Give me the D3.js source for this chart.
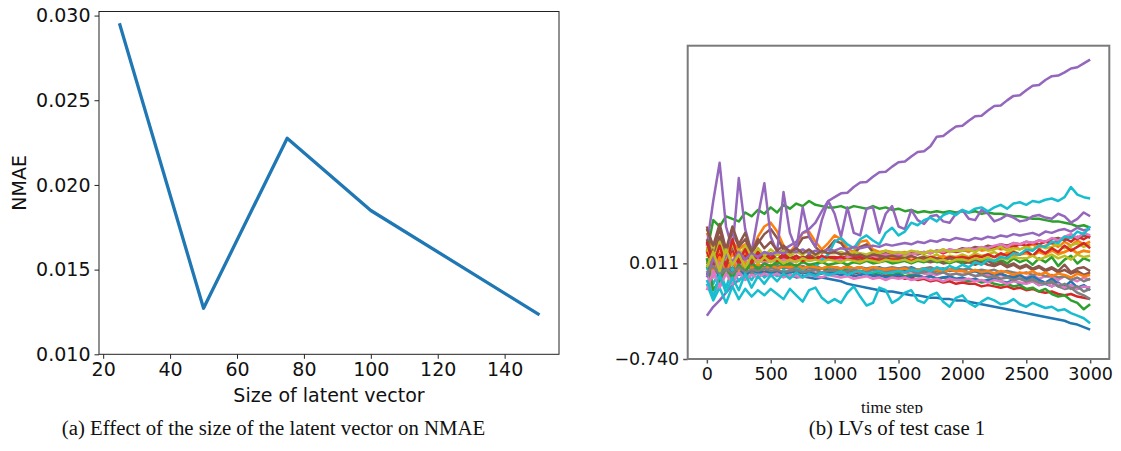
<!DOCTYPE html>
<html><head><meta charset="utf-8">
<script src="https://cdn.jsdelivr.net/npm/d3@7"></script>
<style>body{margin:0;background:#fff}svg{display:block}</style>
</head><body>
<svg id="chart" width="1121" height="451"></svg>
<script>
// ---------- Panel (a) data ----------
const latentSizes = [25, 50, 75, 100, 150];
const nmaeValues = [0.02945, 0.01272, 0.02276, 0.01849, 0.01238];
const xTicksA = [20, 40, 60, 80, 100, 120, 140];
const yTicksA = [0.010, 0.015, 0.020, 0.025, 0.030];

// ---------- Panel (b) data ----------
const timeSteps = [0,50,100,150,200,250,300,350,400,450,500,550,600,650,700,750,800,850,900,950,1000,1050,1100,1150,1200,1250,1300,1350,1400,1450,1500,1550,1600,1650,1700,1750,1800,1850,1900,1950,2000,2050,2100,2150,2200,2250,2300,2350,2400,2450,2500,2550,2600,2650,2700,2750,2800,2850,2900,2950,3000];
const xTicksB = [0, 500, 1000, 1500, 2000, 2500, 3000];
const yTicksB = [-0.740, 0.011];
const yTickLabelsB = ["\u22120.740", "0.011"];
const lvSeries = [
 [-0.02,-0.06,-0.03,-0.07,-0.04,-0.08,-0.05,-0.07,-0.06,-0.09,-0.07,-0.08,-0.09,-0.08,-0.10,-0.09,-0.10,-0.11,-0.10,-0.11,-0.12,-0.13,-0.15,-0.16,-0.17,-0.18,-0.19,-0.20,-0.21,-0.21,-0.22,-0.23,-0.24,-0.24,-0.25,-0.26,-0.26,-0.27,-0.27,-0.28,-0.28,-0.29,-0.30,-0.31,-0.32,-0.33,-0.34,-0.35,-0.36,-0.37,-0.38,-0.39,-0.40,-0.41,-0.42,-0.43,-0.44,-0.46,-0.47,-0.49,-0.51],
 [0.25,0.10,0.22,0.08,0.18,0.12,0.16,0.10,0.22,0.30,0.33,0.26,0.15,0.10,0.16,0.25,0.26,0.18,0.12,0.17,0.23,0.20,0.13,0.10,0.18,0.19,0.12,0.10,0.11,0.10,0.09,0.10,0.08,0.10,0.09,0.11,0.10,0.12,0.10,0.11,0.12,0.10,0.13,0.11,0.12,0.14,0.12,0.13,0.15,0.12,0.14,0.16,0.13,0.15,0.17,0.14,0.18,0.15,0.19,0.16,0.18],
 [0.10,0.35,0.30,0.38,0.36,0.34,0.41,0.38,0.43,0.40,0.45,0.41,0.47,0.44,0.48,0.46,0.50,0.47,0.46,0.45,0.45,0.46,0.44,0.46,0.45,0.44,0.46,0.44,0.45,0.43,0.44,0.42,0.43,0.41,0.42,0.41,0.42,0.41,0.42,0.41,0.42,0.41,0.42,0.40,0.41,0.40,0.40,0.39,0.38,0.38,0.37,0.36,0.36,0.35,0.34,0.34,0.33,0.32,0.30,0.31,0.29],
 [0.02,-0.05,0.05,-0.03,0.03,-0.06,0.01,-0.04,0.00,-0.03,-0.01,-0.04,0.00,-0.03,-0.02,-0.05,-0.02,-0.04,-0.03,-0.05,-0.04,-0.06,-0.05,-0.07,-0.06,-0.08,-0.07,-0.09,-0.08,-0.10,-0.09,-0.11,-0.10,-0.12,-0.11,-0.13,-0.12,-0.14,-0.13,-0.15,-0.14,-0.15,-0.15,-0.17,-0.16,-0.17,-0.18,-0.17,-0.19,-0.18,-0.20,-0.19,-0.21,-0.22,-0.21,-0.23,-0.24,-0.23,-0.25,-0.26,-0.27],
 [-0.40,-0.33,-0.28,-0.22,-0.16,-0.12,-0.09,-0.05,-0.03,0.01,0.05,0.08,0.12,0.15,0.18,0.25,0.28,0.33,0.42,0.50,0.53,0.56,0.565,0.61,0.645,0.65,0.69,0.725,0.73,0.77,0.805,0.81,0.85,0.885,0.89,0.93,1.005,1.01,1.05,1.085,1.09,1.13,1.165,1.17,1.21,1.245,1.25,1.29,1.325,1.33,1.37,1.405,1.41,1.45,1.48,1.485,1.51,1.54,1.55,1.58,1.61],
 [0.30,0.12,0.28,0.10,0.26,0.14,0.20,0.09,0.17,0.24,0.28,0.21,0.12,0.08,0.13,0.21,0.22,0.14,0.09,0.13,0.19,0.17,0.10,0.08,0.14,0.16,0.10,0.08,0.09,0.07,0.08,0.07,0.09,0.08,0.10,0.09,0.11,0.10,0.12,0.11,0.13,0.12,0.14,0.13,0.15,0.14,0.16,0.15,0.17,0.16,0.18,0.17,0.19,0.18,0.20,0.21,0.19,0.22,0.20,0.23,0.21],
 [-0.05,-0.26,-0.15,-0.04,-0.12,-0.02,-0.10,-0.03,-0.08,-0.02,-0.06,-0.03,-0.07,-0.04,-0.06,-0.05,-0.07,-0.04,-0.06,-0.05,-0.06,-0.05,-0.07,-0.05,-0.06,-0.06,-0.07,-0.05,-0.07,-0.06,-0.07,-0.06,-0.08,-0.06,-0.07,-0.07,-0.08,-0.06,-0.08,-0.07,-0.08,-0.07,-0.09,-0.07,-0.08,-0.09,-0.08,-0.10,-0.08,-0.09,-0.10,-0.08,-0.11,-0.09,-0.10,-0.12,-0.09,-0.11,-0.13,-0.10,-0.12],
 [-0.02,-0.08,-0.03,-0.07,-0.02,-0.06,-0.04,-0.07,-0.05,-0.06,-0.05,-0.07,-0.06,-0.05,-0.07,-0.06,-0.05,-0.07,-0.06,-0.06,-0.06,-0.05,-0.07,-0.06,-0.05,-0.06,-0.07,-0.05,-0.06,-0.05,-0.06,-0.05,-0.04,-0.06,-0.05,-0.04,-0.05,-0.06,-0.04,-0.05,-0.05,-0.06,-0.05,-0.07,-0.06,-0.08,-0.07,-0.09,-0.10,-0.11,-0.12,-0.11,-0.14,-0.15,-0.14,-0.17,-0.19,-0.18,-0.22,-0.24,-0.27],
 [0.06,0.16,-0.02,0.14,0.00,0.12,0.02,0.11,0.03,0.10,0.04,0.09,0.03,0.08,0.04,0.07,0.03,0.08,0.04,0.06,0.04,0.07,0.05,0.06,0.04,0.07,0.05,0.06,0.05,0.07,0.05,0.07,0.06,0.05,0.07,0.06,0.08,0.05,0.07,0.06,0.08,0.06,0.09,0.07,0.08,0.10,0.07,0.09,0.11,0.08,0.10,0.07,0.11,0.09,0.12,0.08,0.10,0.13,0.09,0.11,0.10],
 [-0.15,-0.28,-0.18,-0.30,-0.17,-0.27,-0.19,-0.25,-0.20,-0.24,-0.19,-0.23,-0.27,-0.19,-0.24,-0.29,-0.20,-0.18,-0.26,-0.30,-0.27,-0.30,-0.22,-0.17,-0.25,-0.32,-0.30,-0.18,-0.20,-0.30,-0.27,-0.22,-0.20,-0.28,-0.30,-0.24,-0.22,-0.29,-0.33,-0.26,-0.24,-0.30,-0.33,-0.29,-0.26,-0.28,-0.31,-0.30,-0.27,-0.31,-0.33,-0.30,-0.32,-0.34,-0.33,-0.36,-0.35,-0.38,-0.40,-0.42,-0.46],
 [0.00,-0.06,0.03,-0.04,0.02,-0.05,0.01,-0.03,0.00,-0.02,-0.01,-0.03,0.00,-0.02,-0.01,-0.03,-0.02,-0.01,-0.03,-0.02,-0.02,-0.03,-0.01,-0.03,-0.02,-0.04,-0.03,-0.02,-0.04,-0.03,-0.03,-0.04,-0.02,-0.04,-0.03,-0.05,-0.04,-0.03,-0.05,-0.04,-0.04,-0.06,-0.05,-0.07,-0.06,-0.08,-0.07,-0.09,-0.10,-0.08,-0.11,-0.09,-0.12,-0.14,-0.11,-0.15,-0.17,-0.13,-0.18,-0.16,-0.20],
 [0.12,-0.02,0.10,0.00,0.08,0.02,0.09,0.01,0.07,0.03,0.06,0.02,0.05,0.03,0.06,0.02,0.05,0.04,0.03,0.05,0.04,0.03,0.05,0.04,0.03,0.05,0.04,0.06,0.04,0.05,0.05,0.04,0.06,0.05,0.04,0.06,0.05,0.07,0.05,0.06,0.06,0.05,0.07,0.06,0.08,0.06,0.07,0.09,0.07,0.08,0.09,0.07,0.10,0.08,0.11,0.09,0.10,0.12,0.09,0.11,0.10],
 [-0.03,0.06,-0.06,0.04,-0.05,0.03,-0.04,0.02,-0.03,0.01,-0.02,0.00,-0.03,-0.01,-0.02,-0.03,-0.02,-0.04,-0.03,-0.04,-0.04,-0.05,-0.04,-0.06,-0.05,-0.06,-0.07,-0.06,-0.07,-0.08,-0.07,-0.09,-0.08,-0.09,-0.10,-0.09,-0.11,-0.10,-0.11,-0.12,-0.12,-0.13,-0.12,-0.14,-0.13,-0.15,-0.16,-0.15,-0.17,-0.16,-0.19,-0.18,-0.21,-0.19,-0.23,-0.25,-0.24,-0.28,-0.30,-0.35,-0.31],
 [0.10,-0.01,0.08,0.02,0.12,0.00,0.07,0.03,0.06,0.04,0.05,0.04,0.06,0.05,0.04,0.06,0.05,0.07,0.05,0.06,0.06,0.05,0.07,0.06,0.08,0.06,0.07,0.08,0.07,0.09,0.08,0.09,0.08,0.10,0.09,0.10,0.11,0.09,0.11,0.10,0.11,0.12,0.11,0.13,0.12,0.14,0.13,0.15,0.14,0.16,0.15,0.17,0.16,0.18,0.17,0.19,0.21,0.18,0.22,0.20,0.23],
 [0.15,0.50,0.80,0.30,0.12,0.68,0.28,0.10,0.38,0.64,0.22,0.10,0.57,0.25,0.12,0.45,0.22,0.14,0.35,0.50,0.40,0.22,0.45,0.25,0.23,0.44,0.45,0.25,0.40,0.46,0.30,0.28,0.43,0.35,0.32,0.38,0.39,0.34,0.33,0.40,0.43,0.36,0.35,0.43,0.40,0.34,0.36,0.39,0.37,0.34,0.35,0.38,0.39,0.37,0.36,0.40,0.38,0.33,0.36,0.41,0.38],
 [0.20,0.05,0.22,0.02,0.15,0.06,0.13,0.04,0.10,0.05,0.09,0.04,0.08,0.05,0.07,0.04,0.08,0.05,0.06,0.04,0.05,0.04,0.06,0.03,0.05,0.04,0.03,0.05,0.04,0.03,0.04,0.03,0.02,0.04,0.03,0.02,0.03,0.01,0.02,0.03,0.01,0.02,0.00,0.02,0.00,-0.01,0.01,-0.02,0.00,-0.03,-0.01,-0.04,-0.02,-0.05,-0.03,-0.06,-0.04,-0.07,-0.05,-0.08,-0.06],
 [0.05,-0.10,0.02,-0.06,0.04,-0.02,0.03,0.00,0.04,0.01,0.03,0.02,0.04,0.02,0.03,0.05,0.03,0.04,0.05,0.04,0.05,0.04,0.06,0.05,0.06,0.07,0.06,0.07,0.08,0.07,0.08,0.09,0.08,0.09,0.10,0.09,0.11,0.10,0.12,0.11,0.12,0.13,0.12,0.14,0.13,0.15,0.16,0.14,0.17,0.16,0.18,0.17,0.19,0.18,0.21,0.19,0.22,0.24,0.21,0.25,0.23],
 [-0.04,0.02,-0.06,0.01,-0.05,0.00,-0.04,-0.01,-0.03,-0.02,-0.03,-0.01,-0.02,-0.03,-0.02,-0.01,-0.03,-0.02,-0.03,-0.02,-0.02,-0.03,-0.02,-0.03,-0.02,-0.03,-0.02,-0.03,-0.03,-0.02,-0.03,-0.02,-0.03,-0.04,-0.03,-0.02,-0.04,-0.03,-0.04,-0.03,-0.04,-0.03,-0.05,-0.04,-0.05,-0.04,-0.06,-0.05,-0.06,-0.07,-0.06,-0.08,-0.07,-0.09,-0.08,-0.10,-0.09,-0.12,-0.10,-0.13,-0.11],
 [0.14,0.02,0.18,0.04,0.16,0.05,0.15,0.06,0.13,0.07,0.12,0.08,0.11,0.07,0.10,0.08,0.11,0.07,0.10,0.09,0.09,0.10,0.08,0.10,0.09,0.08,0.10,0.09,0.11,0.09,0.10,0.09,0.11,0.10,0.09,0.11,0.10,0.12,0.10,0.11,0.11,0.12,0.10,0.13,0.11,0.12,0.14,0.11,0.13,0.12,0.14,0.12,0.15,0.13,0.14,0.16,0.13,0.15,0.17,0.14,0.16],
 [-0.02,-0.15,-0.05,-0.18,-0.03,-0.13,-0.06,-0.12,-0.04,-0.10,-0.06,-0.09,-0.04,-0.07,-0.03,-0.05,0.00,-0.02,0.04,0.08,0.18,0.21,0.16,0.13,0.20,0.23,0.19,0.16,0.25,0.29,0.23,0.26,0.33,0.31,0.35,0.37,0.34,0.39,0.41,0.39,0.43,0.41,0.44,0.45,0.42,0.45,0.47,0.44,0.48,0.49,0.47,0.50,0.49,0.51,0.52,0.50,0.53,0.61,0.55,0.53,0.52],
 [-0.08,0.00,-0.10,-0.02,-0.07,-0.03,-0.08,-0.04,-0.06,-0.05,-0.06,-0.05,-0.07,-0.06,-0.05,-0.07,-0.06,-0.08,-0.07,-0.06,-0.07,-0.08,-0.07,-0.09,-0.08,-0.07,-0.09,-0.08,-0.10,-0.09,-0.08,-0.10,-0.09,-0.08,-0.10,-0.09,-0.11,-0.10,-0.09,-0.11,-0.10,-0.12,-0.11,-0.13,-0.12,-0.11,-0.13,-0.14,-0.12,-0.15,-0.14,-0.13,-0.16,-0.15,-0.17,-0.14,-0.18,-0.16,-0.19,-0.17,-0.18],
 [0.04,-0.06,0.06,-0.04,0.03,-0.05,0.02,-0.03,0.01,-0.04,0.00,-0.03,-0.01,-0.02,0.00,-0.03,-0.01,-0.02,-0.03,-0.01,-0.02,-0.03,-0.01,-0.03,-0.02,-0.04,-0.02,-0.03,-0.04,-0.03,-0.04,-0.03,-0.05,-0.04,-0.03,-0.05,-0.04,-0.06,-0.04,-0.05,-0.05,-0.06,-0.04,-0.06,-0.05,-0.07,-0.05,-0.06,-0.08,-0.06,-0.07,-0.05,-0.08,-0.06,-0.09,-0.07,-0.08,-0.10,-0.07,-0.09,-0.08],
 [0.05,-0.20,-0.12,-0.03,-0.10,0.00,-0.06,0.02,-0.04,0.01,-0.01,0.02,0.00,0.01,-0.01,0.02,0.00,0.01,0.02,0.00,0.01,0.02,0.00,0.02,0.01,0.03,0.01,0.02,0.03,0.01,0.02,0.03,0.01,0.03,0.02,0.04,0.02,0.03,0.01,0.03,0.02,0.04,0.01,0.03,0.05,0.02,0.04,0.01,0.05,0.02,0.04,0.00,0.05,0.02,0.06,-0.01,0.04,0.07,0.01,0.05,0.03],
 [0.18,0.00,0.15,-0.02,0.20,0.03,0.12,0.01,0.10,0.04,0.08,0.03,0.09,0.04,0.07,0.03,0.06,0.04,0.07,0.05,0.05,0.06,0.04,0.05,0.06,0.04,0.05,0.03,0.05,0.04,0.04,0.05,0.03,0.05,0.04,0.06,0.05,0.04,0.06,0.05,0.06,0.05,0.07,0.06,0.08,0.06,0.09,0.07,0.10,0.08,0.11,0.07,0.12,0.09,0.13,0.10,0.15,0.11,0.14,0.17,0.13],
 [-0.10,0.05,-0.04,0.08,0.02,0.10,0.04,0.09,0.06,0.10,0.08,0.10,0.09,0.11,0.10,0.12,0.09,0.11,0.10,0.12,0.11,0.13,0.12,0.14,0.13,0.14,0.15,0.14,0.16,0.15,0.16,0.17,0.16,0.18,0.17,0.19,0.18,0.20,0.19,0.21,0.20,0.19,0.21,0.20,0.22,0.21,0.23,0.22,0.24,0.23,0.24,0.25,0.23,0.26,0.25,0.27,0.28,0.26,0.29,0.27,0.28],
 [0.28,0.15,0.32,0.12,0.30,0.16,0.25,0.10,0.20,0.13,0.18,0.11,0.15,0.10,0.13,0.09,0.12,0.08,0.11,0.09,0.10,0.08,0.09,0.07,0.08,0.06,0.08,0.07,0.06,0.07,0.06,0.05,0.07,0.05,0.06,0.04,0.05,0.03,0.05,0.04,0.04,0.02,0.04,0.01,0.03,0.00,0.02,-0.01,0.01,-0.02,0.00,-0.03,-0.01,-0.04,-0.02,-0.05,0.00,-0.06,-0.03,-0.02,-0.05],
 [-0.20,-0.05,-0.18,-0.07,-0.15,-0.06,-0.12,-0.08,-0.10,-0.07,-0.09,-0.07,-0.10,-0.08,-0.09,-0.10,-0.08,-0.09,-0.10,-0.08,-0.09,-0.10,-0.09,-0.11,-0.10,-0.09,-0.11,-0.10,-0.12,-0.10,-0.11,-0.10,-0.12,-0.11,-0.10,-0.12,-0.11,-0.13,-0.11,-0.12,-0.12,-0.11,-0.13,-0.12,-0.14,-0.12,-0.13,-0.15,-0.13,-0.14,-0.15,-0.13,-0.16,-0.14,-0.17,-0.15,-0.18,-0.16,-0.19,-0.17,-0.18],
 [-0.06,-0.01,-0.08,-0.03,-0.07,-0.02,-0.06,-0.04,-0.05,-0.03,-0.05,-0.04,-0.06,-0.05,-0.04,-0.06,-0.05,-0.04,-0.06,-0.05,-0.04,-0.06,-0.05,-0.04,-0.05,-0.06,-0.04,-0.05,-0.06,-0.05,-0.05,-0.06,-0.05,-0.07,-0.06,-0.05,-0.07,-0.06,-0.08,-0.07,-0.08,-0.07,-0.09,-0.08,-0.10,-0.09,-0.11,-0.10,-0.12,-0.11,-0.13,-0.12,-0.14,-0.15,-0.13,-0.17,-0.15,-0.19,-0.17,-0.21,-0.19],
 [-0.02,0.10,-0.05,0.12,0.00,0.08,-0.02,0.07,0.01,0.06,0.02,0.05,0.01,0.04,0.02,0.05,0.03,0.04,0.02,0.04,0.03,0.02,0.04,0.03,0.02,0.04,0.03,0.02,0.04,0.03,0.03,0.04,0.02,0.04,0.03,0.05,0.03,0.04,0.02,0.04,0.04,0.03,0.05,0.04,0.06,0.03,0.05,0.04,0.06,0.05,0.05,0.07,0.04,0.06,0.08,0.05,0.07,0.04,0.08,0.06,0.07],
 [-0.12,-0.25,-0.08,-0.22,-0.10,-0.20,-0.07,-0.18,-0.09,-0.15,-0.08,-0.13,-0.07,-0.11,-0.06,-0.10,-0.07,-0.09,-0.06,-0.08,-0.07,-0.05,-0.08,-0.06,-0.05,-0.07,-0.06,-0.05,-0.07,-0.06,-0.05,-0.06,-0.04,-0.05,-0.03,-0.05,-0.02,-0.04,-0.01,-0.03,0.00,-0.02,0.02,0.00,0.04,0.03,0.06,0.05,0.09,0.08,0.12,0.11,0.15,0.14,0.18,0.17,0.22,0.21,0.26,0.24,0.30]
];
const tab10 = ["#1f77b4","#ff7f0e","#2ca02c","#d62728","#9467bd","#8c564b","#e377c2","#7f7f7f","#bcbd22","#17becf"];

const svg = d3.select("#chart");
const sans = "DejaVu Sans, sans-serif";
const serif = "Liberation Serif, Times New Roman, serif";

// ================= Panel (a) =================
const A = {left: 99, right: 559, top: 11.5, bottom: 354.3};
const xA = d3.scaleLinear().domain([18.75, 156.25]).range([A.left, A.right]);
const yA = d3.scaleLinear().domain([0.010, 0.03024]).range([A.bottom, A.top]);
const gA = svg.append("g");

gA.append("path")
  .datum(latentSizes.map((s, i) => [s, nmaeValues[i]]))
  .attr("fill", "none").attr("stroke", "#1f77b4").attr("stroke-width", 3.3)
  .attr("stroke-linejoin", "round").attr("stroke-linecap", "square")
  .attr("d", d3.line().x(d => xA(d[0])).y(d => yA(d[1])));

const axA = gA.append("g").attr("transform", `translate(0,${A.bottom})`)
  .call(d3.axisBottom(xA).tickValues(xTicksA).tickSize(4.5).tickPadding(4).tickFormat(d3.format("d")));
const ayA = gA.append("g").attr("transform", `translate(${A.left},0)`)
  .call(d3.axisLeft(yA).tickValues(yTicksA).tickSize(4.5).tickPadding(4).tickFormat(d3.format(".3f")));
[axA, ayA].forEach(g => {
  g.select(".domain").remove();
  g.selectAll("line").attr("stroke", "#222").attr("stroke-width", 1);
  g.selectAll("text").attr("fill", "#111").style("font-family", sans).style("font-size", "19px");
});
gA.append("rect").attr("x", A.left).attr("y", A.top).attr("width", A.right - A.left).attr("height", A.bottom - A.top)
  .attr("fill", "none").attr("stroke", "#222").attr("stroke-width", 1);
gA.append("text").attr("x", (A.left + A.right) / 2).attr("y", 402).attr("text-anchor", "middle")
  .style("font-family", sans).style("font-size", "19px").attr("fill", "#111").text("Size of latent vector");
gA.append("text").attr("transform", `translate(26,${(A.top + A.bottom) / 2}) rotate(-90)`).attr("text-anchor", "middle")
  .style("font-family", sans).style("font-size", "19px").attr("fill", "#111").text("NMAE");
gA.append("text").attr("x", 273.5).attr("y", 434.5).attr("text-anchor", "middle")
  .style("font-family", serif).style("font-size", "20.8px").attr("fill", "#111")
  .text("(a) Effect of the size of the latent vector on NMAE");

// ================= Panel (b) =================
const B = {left: 687.7, right: 1109.3, top: 45.7, bottom: 359};
const xB = d3.scaleLinear().domain([-150, 3150]).range([B.left, B.right]);
const yB = d3.scaleLinear().domain([-0.740, 1.719]).range([B.bottom, B.top]);
const gB = svg.append("g");
svg.append("defs").append("clipPath").attr("id", "clipB").append("rect")
  .attr("x", B.left).attr("y", B.top).attr("width", B.right - B.left).attr("height", B.bottom - B.top);

const lineB = d3.line().x((d, i) => xB(timeSteps[i])).y(d => yB(d));
gB.append("g").attr("clip-path", "url(#clipB)")
  .selectAll("path").data(lvSeries).join("path")
  .attr("fill", "none").attr("stroke", (d, i) => tab10[i % 10]).attr("stroke-width", 2.5)
  .attr("stroke-linejoin", "round").attr("d", lineB);

const axB = gB.append("g").attr("transform", `translate(0,${B.bottom})`)
  .call(d3.axisBottom(xB).tickValues(xTicksB).tickSize(4.5).tickPadding(4).tickFormat(d3.format("d")));
const ayB = gB.append("g").attr("transform", `translate(${B.left},0)`)
  .call(d3.axisLeft(yB).tickValues(yTicksB).tickSize(4.5).tickPadding(4).tickFormat((d, i) => yTickLabelsB[i]));
[axB, ayB].forEach(g => {
  g.select(".domain").remove();
  g.selectAll("line").attr("stroke", "#555").attr("stroke-width", 1.5);
  g.selectAll("text").attr("fill", "#111").style("font-family", sans).style("font-size", "17.5px");
});
gB.append("rect").attr("x", B.left).attr("y", B.top).attr("width", B.right - B.left).attr("height", B.bottom - B.top)
  .attr("fill", "none").attr("stroke", "#7a7a7a").attr("stroke-width", 2);

svg.append("defs").append("clipPath").attr("id", "clipLabel").append("rect")
  .attr("x", 800).attr("y", 395).attr("width", 200).attr("height", 18.5);
gB.append("text").attr("clip-path", "url(#clipLabel)").attr("x", 892).attr("y", 412.5).attr("text-anchor", "middle")
  .style("font-family", serif).style("font-size", "17px").attr("fill", "#111").text("time step");
gB.append("text").attr("x", 897).attr("y", 434.5).attr("text-anchor", "middle")
  .style("font-family", serif).style("font-size", "20.8px").attr("fill", "#111")
  .text("(b) LVs of test case 1");
</script>
</body></html>
